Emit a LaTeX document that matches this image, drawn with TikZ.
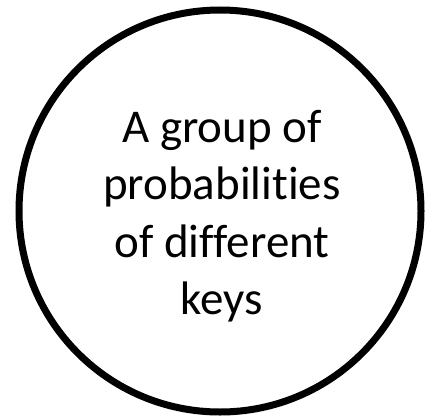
\documentclass[tikz,border=0pt]{standalone}
\usepackage{fontspec}
\setmainfont{Carlito}[Ligatures=NoCommon]
\usetikzlibrary{positioning}

\begin{document}
\begin{tikzpicture}[
  x=1pt, y=1pt,
  ring/.style={circle, draw, line width=7pt, minimum size=402pt, inner sep=0pt},
  txt/.style={align=center, inner sep=0pt, font=\fontsize{47}{57.5}\selectfont}
]
\useasboundingbox (0,0) rectangle (425,416);

% Circle
\node[ring] (keyring) at (220,205) {};

% Text
\node[txt] (keytext) at ([xshift=2pt, yshift=-5pt]keyring.center) {A group of\\probabilities\\of different\\keys};

\end{tikzpicture}
\end{document}
